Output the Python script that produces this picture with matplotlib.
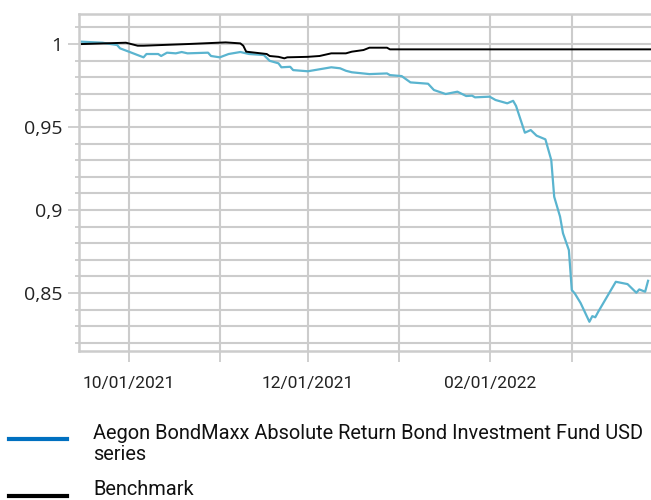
import pandas as pd
import matplotlib
matplotlib.use("Agg")
import matplotlib.pyplot as plt
import matplotlib.dates as mdates
from matplotlib.lines import Line2D
from matplotlib.ticker import MultipleLocator, FuncFormatter

# fund series
fund_dates = ["2021-09-15", "2021-09-22", "2021-09-27", "2021-09-28", "2021-10-01",
              "2021-10-06", "2021-10-07", "2021-10-11", "2021-10-12", "2021-10-14",
              "2021-10-17", "2021-10-19", "2021-10-21", "2021-10-28", "2021-10-29",
              "2021-11-01", "2021-11-04", "2021-11-08", "2021-11-09", "2021-11-11",
              "2021-11-16", "2021-11-18", "2021-11-21", "2021-11-22", "2021-11-25",
              "2021-11-26", "2021-12-01", "2021-12-05", "2021-12-09", "2021-12-12",
              "2021-12-14", "2021-12-16", "2021-12-22", "2021-12-28", "2021-12-29",
              "2022-01-02", "2022-01-05", "2022-01-11", "2022-01-13", "2022-01-17",
              "2022-01-21", "2022-01-24", "2022-01-26", "2022-01-27", "2022-02-01",
              "2022-02-03", "2022-02-07", "2022-02-09", "2022-02-10", "2022-02-13",
              "2022-02-15", "2022-02-17", "2022-02-20", "2022-02-22", "2022-02-23",
              "2022-02-25", "2022-02-26", "2022-02-28", "2022-03-01", "2022-03-02",
              "2022-03-04", "2022-03-07", "2022-03-08", "2022-03-09", "2022-03-10",
              "2022-03-16", "2022-03-20", "2022-03-23", "2022-03-24", "2022-03-26",
              "2022-03-27"]
fund_values = [1.0014, 1.0008, 0.9994, 0.9974, 0.9954,
               0.9920, 0.9940, 0.9940, 0.9928, 0.9948,
               0.9944, 0.9952, 0.9944, 0.9948, 0.9928,
               0.9920, 0.9940, 0.9952, 0.9948, 0.9940,
               0.9934, 0.9899, 0.9884, 0.9860, 0.9863,
               0.9843, 0.9836, 0.9848, 0.9860, 0.9854,
               0.9839, 0.9830, 0.9819, 0.9823, 0.9813,
               0.9807, 0.9769, 0.9761, 0.9723, 0.9699,
               0.9713, 0.9687, 0.9689, 0.9679, 0.9683,
               0.9663, 0.9643, 0.9658, 0.9627, 0.9466,
               0.9482, 0.9448, 0.9426, 0.9301, 0.9080,
               0.8960, 0.8860, 0.8759, 0.8518, 0.8498,
               0.8440, 0.8327, 0.8361, 0.8354, 0.8387,
               0.8568, 0.8554, 0.8502, 0.8522, 0.8508,
               0.8574]

# benchmark series
bench_dates = ["2021-09-15", "2021-09-30", "2021-10-04", "2021-10-06", "2021-10-21",
               "2021-11-03", "2021-11-08", "2021-11-09", "2021-11-10", "2021-11-15",
               "2021-11-17", "2021-11-18", "2021-11-21", "2021-11-23", "2021-11-24",
               "2021-12-01", "2021-12-05", "2021-12-09", "2021-12-14", "2021-12-16",
               "2021-12-20", "2021-12-22", "2021-12-28", "2021-12-29", "2022-03-28"]
bench_values = [1.0000, 1.0008, 0.9990, 0.9990, 1.0000,
                1.0010, 1.0004, 0.9990, 0.9954, 0.9944,
                0.9940, 0.9928, 0.9923, 0.9914, 0.9920,
                0.9923, 0.9928, 0.9944, 0.9944, 0.9954,
                0.9964, 0.9978, 0.9978, 0.9968, 0.9968]

fund_label = "Aegon BondMaxx Absolute Return Bond Investment Fund USD\nseries"
bench_label = "Benchmark"

grid_c = "#cccccc"
fund_c = "#5ab4cf"

fig = plt.figure(figsize=(6.51, 5.0), dpi=100)
ax = fig.add_axes([79/651, 1-351/500, 1-79/651, 337/500])

ax.plot(pd.to_datetime(fund_dates), fund_values, color=fund_c, lw=1.6, zorder=3)
ax.plot(pd.to_datetime(bench_dates), bench_values, color="black", lw=1.4, zorder=4)

ax.set_xlim(pd.Timestamp("2021-09-14"), pd.Timestamp("2022-03-28"))
ax.set_ylim(0.8151, 1.0181)

ax.yaxis.set_major_locator(MultipleLocator(0.05))
ax.yaxis.set_minor_locator(MultipleLocator(0.01))
ax.yaxis.set_major_formatter(FuncFormatter(lambda v, p: ("%g" % round(v, 2)).replace(".", ",")))

ax.xaxis.set_major_locator(mdates.MonthLocator())
ax.xaxis.set_major_formatter(FuncFormatter(
    lambda v, p: mdates.num2date(v).strftime("%m/%d/%Y") if mdates.num2date(v).month % 2 == 0 else ""))

ax.grid(True, which="both", color=grid_c, lw=1.5)
ax.set_axisbelow(True)
for s in ["left", "bottom", "top"]:
    ax.spines[s].set_color(grid_c)
    ax.spines[s].set_linewidth(1.8)
ax.spines["right"].set_visible(False)

ax.tick_params(axis="y", which="major", length=8, width=1.3, color=grid_c,
               labelsize=14, labelcolor="#222222", pad=4)
ax.tick_params(axis="y", which="minor", length=3, width=1.3, color=grid_c)
ax.tick_params(axis="x", which="major", length=8, width=1.3, color=grid_c,
               labelsize=12.5, labelcolor="#222222", pad=10)
for t in ax.get_yticklabels():
    t.set_family("Open Sans")
for t in ax.get_xticklabels():
    t.set_family("Roboto")

# legend below the chart
fig.add_artist(Line2D([9/651, 67/651], [1-439/500, 1-439/500], color="#0070c0", lw=3))
fig.add_artist(Line2D([9/651, 67/651], [1-496/500, 1-496/500], color="black", lw=3))
fig.text(93/651, 1-460/500, fund_label, family="Roboto", fontsize=14.4,
         color="#111111", va="baseline", linespacing=1.15)
fig.text(93/651, 1-495/500, bench_label, family="Roboto", fontsize=14.4,
         color="#111111", va="baseline")

fig.savefig("out.png", dpi=100)
